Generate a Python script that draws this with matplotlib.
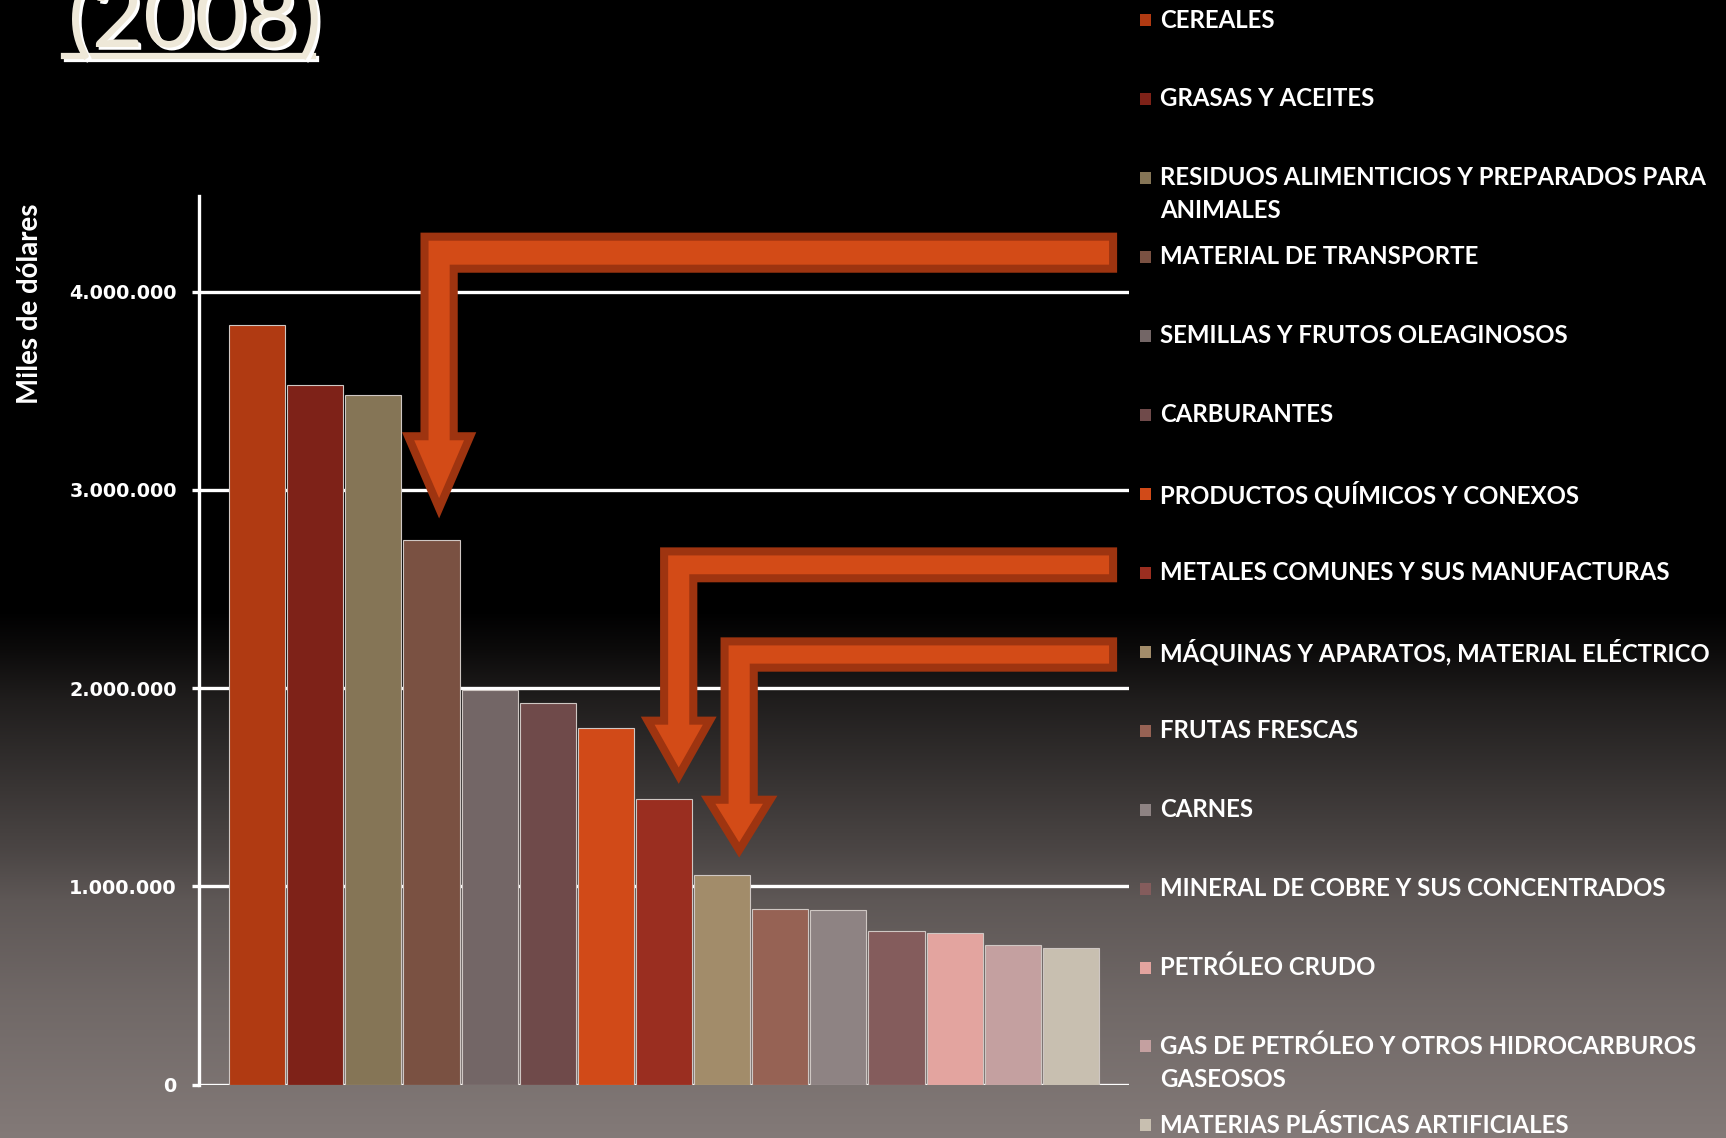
import matplotlib.pyplot as plt
import matplotlib.patheffects as pe
import numpy as np
from matplotlib.patches import Polygon, Rectangle
from matplotlib.lines import Line2D

categorias = [
    "CEREALES",
    "GRASAS Y ACEITES",
    "RESIDUOS ALIMENTICIOS Y PREPARADOS PARA\nANIMALES",
    "MATERIAL DE TRANSPORTE",
    "SEMILLAS Y FRUTOS OLEAGINOSOS",
    "CARBURANTES",
    "PRODUCTOS QUÍMICOS Y CONEXOS",
    "METALES COMUNES Y SUS MANUFACTURAS",
    "MÁQUINAS Y APARATOS, MATERIAL ELÉCTRICO",
    "FRUTAS FRESCAS",
    "CARNES",
    "MINERAL DE COBRE Y SUS CONCENTRADOS",
    "PETRÓLEO CRUDO",
    "GAS DE PETRÓLEO Y OTROS HIDROCARBUROS\nGASEOSOS",
    "MATERIAS PLÁSTICAS ARTIFICIALES",
]
valores = [3833000, 3530000, 3480000, 2749000, 1992000, 1925000, 1797000,
           1441000, 1055000, 888000, 879000, 772000, 762000, 706000, 691000]
colores = ["#B03A12", "#7E2218", "#857556", "#7A5142", "#736666", "#6F4A4A",
           "#D14A18", "#9A2E20", "#A28C6A", "#966254", "#8E8383", "#845C5C",
           "#E3A49F", "#C4A0A0", "#C8BFB0"]
ticks_y = [0, 1000000, 2000000, 3000000, 4000000]

# bent arrows (annotation): shaft x, band top/bottom, head base, tip
flecha_x = [3.131, 7.253, 8.293]
flecha_sup = [4.298e6, 2.710e6, 2.256e6]
flecha_inf = [4.096e6, 2.534e6, 2.083e6]
flecha_base = [3.291e6, 1.856e6, 1.457e6]
flecha_punta = [2.865e6, 1.516e6, 1.141e6]
flecha_fin = 14.795

W, H = 1726, 1138
fig = plt.figure(figsize=(W / 100, H / 100), dpi=100)

# background gradient
bg = fig.add_axes([0, 0, 1, 1], zorder=-10)
yy = np.arange(H)
r = np.interp(yy, [0, 610, 650, 700, 780, 850, 900, 1000, 1138],
              [0, 0, 12, 32, 55, 75, 94, 112, 131]) / 255.0
grad = np.stack([r, r * 0.93, r * 0.915], axis=-1)[:, None, :]
bg.imshow(grad, aspect="auto", extent=[0, 1, 0, 1])
bg.axis("off")

ax = fig.add_axes([199 / W, 1 - 1084.5 / H, 930 / W, 888.5 / H])
ax.patch.set_alpha(0)
x = np.arange(len(valores))
ax.bar(x, valores, width=0.965, color=colores, edgecolor="#cfc7c3",
       linewidth=0.8, zorder=3)
ax.set_xlim(-1, 15)
ax.set_ylim(0, 4.483e6)
ax.set_axisbelow(True)
ax.grid(axis="y", color="white", linewidth=2.4)
ax.set_xticks([])
ax.set_yticks(ticks_y)
ax.set_yticklabels([f"{v:,.0f}".replace(",", ".") for v in ticks_y],
                   fontsize=12, fontweight="bold", color="white",
                   family="DejaVu Sans")
ax.tick_params(axis="y", colors="white", length=5, width=2.4, pad=11)
for s in ["top", "right", "bottom"]:
    ax.spines[s].set_visible(False)
ax.spines["left"].set_color("white")
ax.spines["left"].set_linewidth(2.4)

dx, dy = 4 / 58.1, 4 / 198.2 * 1e6
sw, hw = 0.32 - dx, 0.637 - 1.5 * dx
for cx, ys, yi, yb, yp in zip(flecha_x, flecha_sup, flecha_inf, flecha_base, flecha_punta):
    xe = flecha_fin - dx
    pts = [(xe, ys - dy), (cx - sw, ys - dy), (cx - sw, yb - dy), (cx - hw, yb - dy),
           (cx, yp + 2.1 * dy), (cx + hw, yb - dy), (cx + sw, yb - dy),
           (cx + sw, yi + dy), (xe, yi + dy)]
    ax.add_patch(Polygon(pts, closed=True, facecolor="#D34B17", edgecolor="#9E3410",
                         linewidth=5.8, joinstyle="miter", zorder=5, clip_on=False))

# legend
fuente = ["Lato", "DejaVu Sans"]
leyenda = []
for i, (cat, col) in enumerate(zip(categorias, colores)):
    yc = 20 + i * 78.96
    fig.add_artist(Rectangle((1140 / W, 1 - (yc + 6) / H), 11 / W, 12 / H,
                             transform=fig.transFigure, facecolor=col,
                             edgecolor="none"))
    for j, linea in enumerate(cat.split("\n")):
        t = fig.text(1160 / W, 1 - (yc + j * 33) / H, linea, color="white",
                     fontsize=18, fontweight="bold", family=fuente,
                     ha="left", va="center")
        leyenda.append(t)

ylab = fig.text(30 / W, 1 - 304 / H, "Miles de dólares", rotation=90, color="white",
                fontsize=20, fontweight="bold", family=fuente, ha="center", va="center")

crema = "#EEE8D8"
fig.text(68 / W, 1 - 47 / H, "(2008)", fontsize=64, family="Lato", color=crema,
         ha="left", va="baseline",
         path_effects=[pe.withSimplePatchShadow(offset=(2, -2), shadow_rgbFace="white", alpha=1.0)])
fig.add_artist(Line2D([64 / W, 313 / W], [1 - 56 / H, 1 - 56 / H], transform=fig.transFigure,
                      color=crema, linewidth=4.5,
                      path_effects=[pe.SimpleLineShadow(offset=(2, -2), shadow_color="white", alpha=1.0),
                                    pe.Normal()]))

# fit text sizes to the widths seen in the reference
fig.canvas.draw()
ren = fig.canvas.get_renderer()
ref = [t for t in leyenda if t.get_text().startswith("MÁQUINAS")][0]
k = 551 / ref.get_window_extent(ren).width
for t in leyenda:
    t.set_fontsize(18 * k)
k = 201 / ylab.get_window_extent(ren).height
ylab.set_fontsize(20 * k)
tl = ax.get_yticklabels()
k = 113 / tl[-1].get_window_extent(ren).width
for t in tl:
    t.set_fontsize(12 * min(k, 1.15))

fig.savefig("out.png", dpi=100)
